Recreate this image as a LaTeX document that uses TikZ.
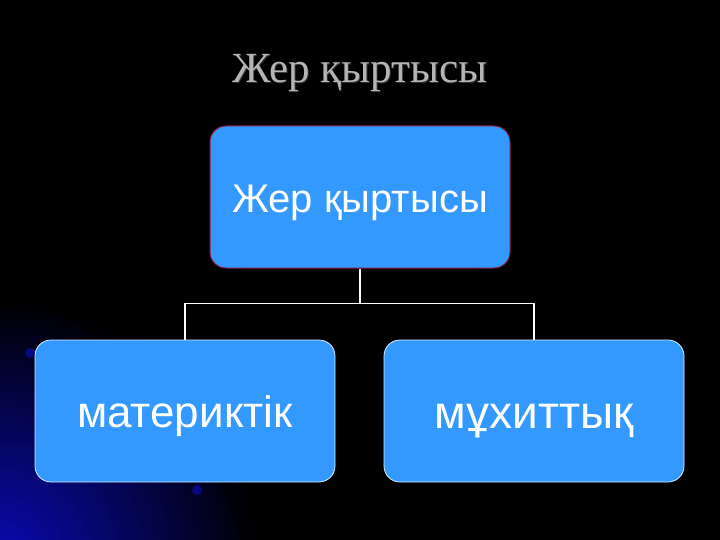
\documentclass[tikz,border=0pt]{standalone}
\usepackage{fontspec}
\setmainfont{Liberation Serif}
\newfontfamily\boxfont{Liberation Sans}
\definecolor{boxblue}{HTML}{3399FF}
\definecolor{titlegray}{HTML}{B4B4B4}
\definecolor{topborder}{HTML}{8A1C3C}
\definecolor{glow}{HTML}{0A0AB4}
\begin{document}
\begin{tikzpicture}[x=1pt,y=-1pt,
  box/.style={rounded corners=16pt, fill=boxblue, minimum width=300pt, minimum height=142pt, inner sep=0pt, text=white, text height=32pt, text depth=0pt, font=\boxfont},
  conn/.style={draw=white, line width=1.8pt}]
\useasboundingbox (0,0) rectangle (720,540);
\fill[black] (0,0) rectangle (720,540);
\begin{scope}
\clip (0,0) rectangle (720,540);
\shade[inner color=glow, outer color=black] (0,560) circle (260);
\fill[black, opacity=0.35] (40,300) .. controls (150,340) and (220,420) .. (250,540) -- (240,540) .. controls (210,430) and (140,350) .. (40,305) -- cycle;
\fill[glow!70!black] (30,353) circle (5);
\fill[glow!70!black] (197,490) circle (5);
\end{scope}
\node[text=black!80, anchor=base, font=\fontsize{43}{46}\selectfont] at (361,84) {Жер қыртысы};
\node[text=titlegray, anchor=base, font=\fontsize{43}{46}\selectfont] (title) at (360,83) {Жер қыртысы};
\node[box, draw=topborder, line width=1pt, font=\boxfont\fontsize{40}{44}\selectfont] (top) at (360,197) {Жер қыртысы};
\node[box, draw=white!80!boxblue, line width=0.8pt, font=\boxfont\fontsize{44}{48}\selectfont] (left) at (185,411) {материктік};
\node[box, draw=white!80!boxblue, line width=0.8pt, text height=34pt, font=\boxfont\fontsize{46}{50}\selectfont] (right) at (534,411) {мұхиттық};
\draw[conn] (top.south) -- ++(0,35) coordinate (mid) -| (left.north);
\draw[conn] (mid) -| (right.north);
\end{tikzpicture}
\end{document}
